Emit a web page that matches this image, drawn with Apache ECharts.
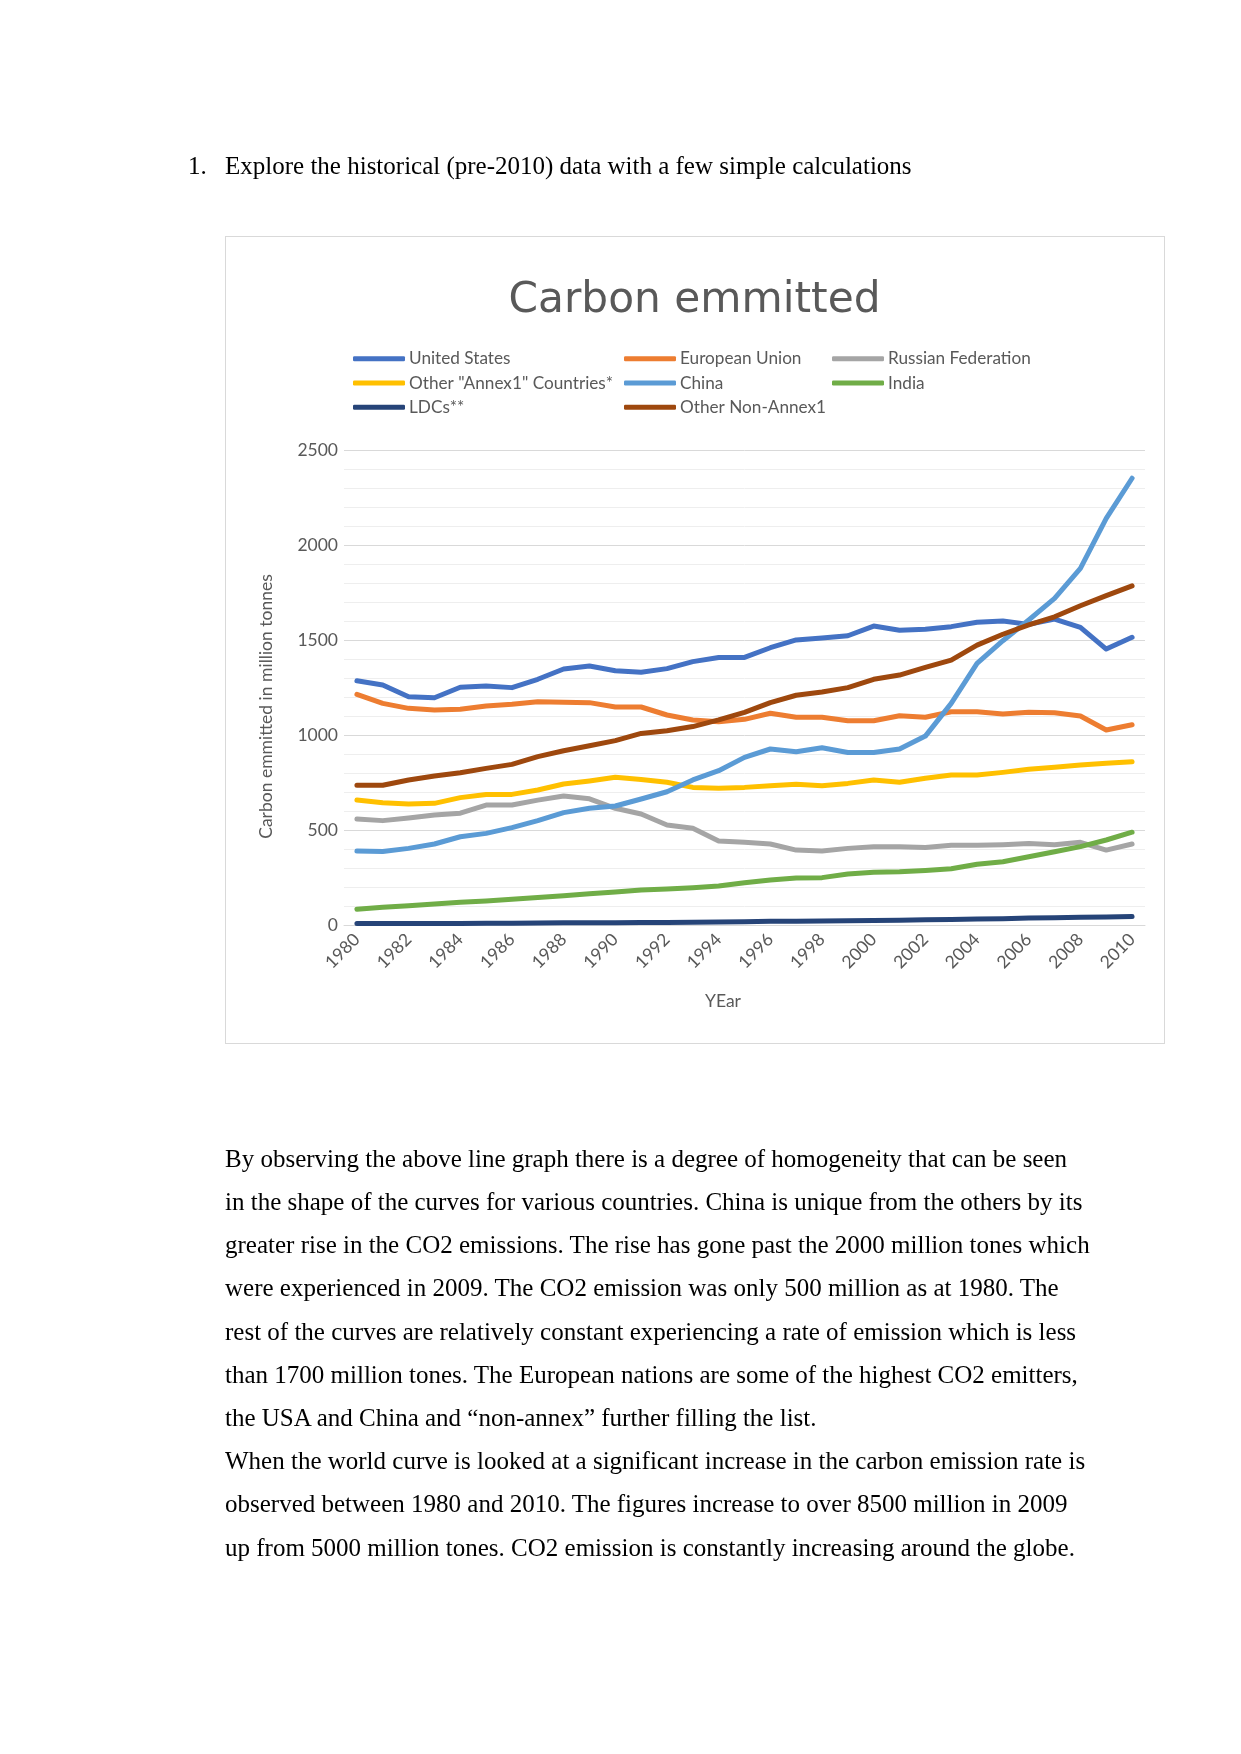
<!DOCTYPE html>
<html>
<head>
<meta charset="utf-8">
<script src="https://cdn.jsdelivr.net/npm/echarts@6/dist/echarts.min.js"></script>
<style>
  html, body { margin: 0; padding: 0; background: #ffffff; }
  #page { position: relative; width: 1241px; height: 1754px; overflow: hidden; background: #fff; }
  #chart { position: absolute; left: 0; top: 0; width: 1241px; height: 1754px; }
  .frame { position: absolute; left: 225px; top: 236px; width: 938px; height: 806px; border: 1px solid #d9d9d9; box-sizing: content-box; }
  .txt { position: absolute; font-family: "Liberation Serif", "Times New Roman", serif; font-size: 25px; line-height: 43px; color: #000; white-space: nowrap; }
</style>
</head>
<body>
<div id="page">
  <div class="frame"></div>
  <div id="chart"></div>
  <div class="txt" style="left:188px; top:144px;">1.</div>
  <div class="txt" style="left:225px; top:144px;">Explore the historical (pre-2010) data with a few simple calculations</div>
  <div id="para"></div>
</div>
<script>
// ---- data ----
var years = ["1980","1981","1982","1983","1984","1985","1986","1987","1988","1989","1990",
             "1991","1992","1993","1994","1995","1996","1997","1998","1999","2000",
             "2001","2002","2003","2004","2005","2006","2007","2008","2009","2010"];
var seriesNames = ["United States","European Union","Russian Federation","Other \"Annex1\" Countries*",
                   "China","India","LDCs**","Other Non-Annex1"];
var unitedStates = [1289,1267,1205,1200,1255,1262,1253,1297,1351,1367,1342,1334,1353,1390,
                    1412,1412,1463,1504,1514,1526,1577,1555,1560,1574,1597,1604,1586,1614,1570,1456,1518];
var europeanUnion = [1218,1170,1144,1135,1139,1156,1165,1179,1176,1174,1151,1151,1109,1083,
                     1074,1086,1118,1097,1097,1079,1079,1105,1097,1126,1126,1114,1123,1121,1104,1030,1058];
var russia = [562,553,567,583,592,635,635,661,683,668,618,588,530,513,
              446,439,430,398,393,407,416,416,412,423,423,426,432,426,439,398,430];
var otherAnnex1 = [661,647,640,644,674,691,691,714,746,762,781,770,755,728,
                   723,728,737,744,737,749,767,755,776,793,793,807,823,834,846,855,863];
var china = [393,390,407,430,468,486,516,553,595,618,630,667,705,767,
             816,886,930,916,937,912,912,930,998,1170,1381,1500,1609,1723,1881,2144,2355];
var india = [86,97,105,114,123,130,139,149,158,168,177,188,193,200,
             209,226,240,251,253,272,281,284,291,300,323,337,363,389,416,451,492];
var ldcs = [11,11,11,12,12,13,13,14,15,16,16,17,17,18,
            20,21,23,24,25,26,27,29,31,33,35,37,40,42,44,46,48];
var otherNonAnnex1 = [739,739,767,788,805,828,849,890,921,947,974,1012,1026,1048,
                      1083,1123,1174,1213,1230,1253,1297,1319,1360,1398,1477,1534,1583,1626,1684,1737,1789];
var seriesColors = ["#4472C4","#ED7D31","#A5A5A5","#FFC000","#5B9BD5","#70AD47","#264478","#9E480E"];
var yTicks = { min: 0, max: 2500, interval: 500 };

var paragraphLines = [
  "By observing the above line graph there is a degree of homogeneity that can be seen",
  "in the shape of the curves for various countries. China is unique from the others by its",
  "greater rise in the CO2 emissions. The rise has gone past the 2000 million tones which",
  "were experienced in 2009. The CO2 emission was only 500 million as at 1980. The",
  "rest of the curves are relatively constant experiencing a rate of emission which is less",
  "than 1700 million tones. The European nations are some of the highest CO2 emitters,",
  "the USA and China and \u201cnon-annex\u201d further filling the list.",
  "When the world curve is looked at a significant increase in the carbon emission rate is",
  "observed between 1980 and 2010. The figures increase to over 8500 million in 2009",
  "up from 5000 million tones. CO2 emission is constantly increasing around the globe."
];

// ---- paragraph text ----
var para = document.getElementById('para');
paragraphLines.forEach(function (line, i) {
  var d = document.createElement('div');
  d.className = 'txt';
  d.style.left = '225px';
  d.style.top = (1136.7 + 43.2 * i) + 'px';
  d.textContent = line;
  para.appendChild(d);
});

// ---- chart ----
var allData = [unitedStates, europeanUnion, russia, otherAnnex1, china, india, ldcs, otherNonAnnex1];
var chart = echarts.init(document.getElementById('chart'), null, { renderer: 'canvas' });
var labelFont = 'Lato';
var labelSize = 17.5;
var grey = '#595959';

var series = seriesNames.map(function (name, i) {
  return {
    name: name,
    type: 'line',
    data: allData[i],
    symbol: 'none',
    smooth: false,
    lineStyle: { width: 5, color: seriesColors[i], cap: 'round', join: 'round' },
    itemStyle: { color: seriesColors[i] },
    emphasis: { disabled: true },
    z: 2 + i
  };
});

function legendCol(left, names) {
  return {
    orient: 'vertical',
    left: left,
    top: 350,
    padding: 0,
    itemWidth: 52,
    itemHeight: 5,
    itemGap: 6.8,
    icon: 'roundRect',
    selectedMode: false,
    data: names,
    textStyle: { fontFamily: labelFont, fontSize: 17.2, lineHeight: 17.5, color: grey, padding: [0, 0, 0, -1] }
  };
}

chart.setOption({
  animation: false,
  color: seriesColors,
  legend: [
    legendCol(353, [seriesNames[0], seriesNames[3], seriesNames[6]]),
    legendCol(624, [seriesNames[1], seriesNames[4], seriesNames[7]]),
    legendCol(832, [seriesNames[2], seriesNames[5]])
  ],
  grid: { left: 344, top: 450.7, width: 801, height: 475, containLabel: false },
  xAxis: {
    type: 'category',
    data: years,
    boundaryGap: true,
    axisTick: { show: false },
    axisLine: { show: true, lineStyle: { color: '#d9d9d9', width: 1 } },
    axisLabel: { interval: 1, rotate: 45, fontFamily: labelFont, fontSize: labelSize, color: grey, margin: 11 },
    splitLine: { show: false }
  },
  yAxis: {
    type: 'value',
    min: yTicks.min,
    max: yTicks.max,
    interval: yTicks.interval,
    axisLine: { show: false },
    axisTick: { show: false },
    axisLabel: { fontFamily: labelFont, fontSize: labelSize, color: grey, margin: 6,
                 formatter: function (v) { return String(v); } },
    splitLine: { show: true, lineStyle: { color: '#d9d9d9', width: 1 } },
    minorTick: { show: false, splitNumber: 5 },
    minorSplitLine: { show: true, lineStyle: { color: '#eeeeee', width: 1 } }
  },
  graphic: [
    { type: 'text', x: 694.5, y: 301,
      style: { text: 'Carbon emmitted', font: '42.3px "DejaVu Sans"', fill: grey, align: 'center', verticalAlign: 'middle' } },
    { type: 'text', x: 266, y: 706.5, rotation: Math.PI / 2,
      style: { text: 'Carbon emmitted in million tonnes', font: labelSize + 'px Lato', fill: grey, align: 'center', verticalAlign: 'middle' } },
    { type: 'text', x: 723, y: 1001,
      style: { text: 'YEar', font: labelSize + 'px Lato', fill: grey, align: 'center', verticalAlign: 'middle' } }
  ],
  series: series
});
</script>
</body>
</html>
